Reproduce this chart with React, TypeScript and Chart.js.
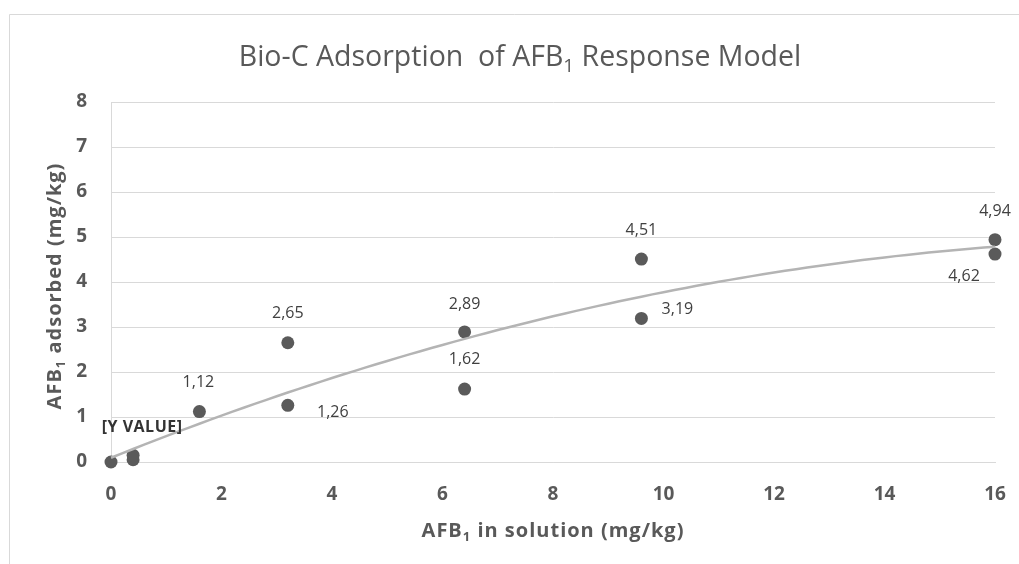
import React, { useEffect, useRef } from "react";
import { Chart, registerables } from "chart.js";

Chart.register(...registerables);

// ---- data ----
const xValues = [0, 0.4, 0.4, 1.6, 3.2, 3.2, 6.4, 6.4, 9.6, 9.6, 16, 16];
const yValues = [0, 0.05, 0.15, 1.12, 2.65, 1.26, 2.89, 1.62, 4.51, 3.19, 4.94, 4.62];
const pointLabels = ["", "", "[Y VALUE]", "1,12", "2,65", "1,26", "2,89", "1,62", "4,51", "3,19", "4,94", "4,62"];
// label placement relative to the point (pixels)
const labelOffsets: [number, number][] = [
  [0, 0], [0, 0], [9, -28], [-1, -29], [0, -29], [45, 7], [0, -28], [0, -30], [0, -29], [36, -9], [0, -28], [-31, 22],
];
const xTicks = [0, 2, 4, 6, 8, 10, 12, 14, 16];
const yTicks = [0, 1, 2, 3, 4, 5, 6, 7, 8];
const titleParts = [{ t: "Bio-C Adsorption  of AFB" }, { t: "1", sub: true }, { t: " Response Model" }];
const xTitleParts = [{ t: "AFB" }, { t: "1", sub: true }, { t: " in solution (mg/kg)" }];
const yTitleParts = [{ t: "AFB" }, { t: "1", sub: true }, { t: " adsorbed (mg/kg)" }];

// polynomial (order 2) least-squares trendline, as a spreadsheet trendline does
function quadFit(xs: number[], ys: number[]) {
  let s0 = 0, s1 = 0, s2 = 0, s3 = 0, s4 = 0, t0 = 0, t1 = 0, t2 = 0;
  for (let i = 0; i < xs.length; i++) {
    const x = xs[i], y = ys[i];
    s0 += 1; s1 += x; s2 += x * x; s3 += x * x * x; s4 += x * x * x * x;
    t0 += y; t1 += x * y; t2 += x * x * y;
  }
  const M = [
    [s0, s1, s2, t0],
    [s1, s2, s3, t1],
    [s2, s3, s4, t2],
  ];
  for (let i = 0; i < 3; i++) {
    for (let j = i + 1; j < 3; j++) {
      const f = M[j][i] / M[i][i];
      for (let k = i; k < 4; k++) M[j][k] -= f * M[i][k];
    }
  }
  const c = M[2][3] / M[2][2];
  const b = (M[1][3] - M[1][2] * c) / M[1][1];
  const a = (M[0][3] - M[0][1] * b - M[0][2] * c) / M[0][0];
  return (x: number) => a + b * x + c * x * x;
}

const FONT = "'Open Sans', 'DejaVu Sans', sans-serif";

type Part = { t: string; sub?: boolean };

function drawParts(
  ctx: CanvasRenderingContext2D,
  parts: Part[],
  size: number,
  weight: string,
  color: string,
  spacing = 0
) {
  // draws centered at (0,0), baseline middle
  const subSize = Math.round(size * 0.65);
  (ctx as any).letterSpacing = `${spacing}px`;
  let total = 0;
  const widths = parts.map((p) => {
    ctx.font = `${weight} ${p.sub ? subSize : size}px ${FONT}`;
    const w = ctx.measureText(p.t).width;
    total += w;
    return w;
  });
  let x = -total / 2;
  ctx.fillStyle = color;
  ctx.textBaseline = "middle";
  ctx.textAlign = "left";
  parts.forEach((p, i) => {
    ctx.font = `${weight} ${p.sub ? subSize : size}px ${FONT}`;
    ctx.fillText(p.t, x, p.sub ? size * 0.3 : 0);
    x += widths[i];
  });
  (ctx as any).letterSpacing = "0px";
}

const decorPlugin = {
  id: "decor",
  beforeDraw(chart: any) {
    const ctx = chart.ctx as CanvasRenderingContext2D;
    ctx.save();
    ctx.fillStyle = "#ffffff";
    ctx.fillRect(0, 0, chart.width, chart.height);
    ctx.strokeStyle = "#d9d9d9";
    ctx.lineWidth = 1;
    ctx.beginPath();
    ctx.moveTo(9.5, chart.height);
    ctx.lineTo(9.5, 14.5);
    ctx.lineTo(chart.width, 14.5);
    ctx.stroke();
    ctx.restore();
  },
  afterDraw(chart: any) {
    const ctx = chart.ctx as CanvasRenderingContext2D;
    // title
    ctx.save();
    ctx.translate(520, 58);
    drawParts(ctx, titleParts, 28.5, "normal", "#595959");
    ctx.restore();
    // x title
    ctx.save();
    ctx.translate(553, 531);
    drawParts(ctx, xTitleParts, 20, "bold", "#595959", 1);
    ctx.restore();
    // y title
    ctx.save();
    ctx.translate(55, 286);
    ctx.rotate(-Math.PI / 2);
    drawParts(ctx, yTitleParts, 20, "bold", "#595959", 1);
    ctx.restore();
    // data labels
    const meta = chart.getDatasetMeta(1);
    ctx.save();
    ctx.textAlign = "center";
    ctx.textBaseline = "middle";
    meta.data.forEach((el: any, i: number) => {
      const txt = pointLabels[i];
      if (!txt) return;
      const [dx, dy] = labelOffsets[i];
      if (txt.startsWith("[")) {
        ctx.font = `bold 16px ${FONT}`;
        (ctx as any).letterSpacing = "0.5px";
        ctx.fillStyle = "#333333";
      } else {
        ctx.font = `normal 16px ${FONT}`;
        (ctx as any).letterSpacing = "0px";
        ctx.fillStyle = "#404040";
      }
      ctx.fillText(txt, el.x + dx, el.y + dy);
    });
    (ctx as any).letterSpacing = "0px";
    ctx.restore();
  },
};

export default function App() {
  const ref = useRef<HTMLCanvasElement | null>(null);
  useEffect(() => {
    if (!ref.current) return;
    const fit = quadFit(xValues, yValues);
    const trend: { x: number; y: number }[] = [];
    for (let i = 0; i <= 80; i++) {
      const x = (16 * i) / 80;
      trend.push({ x, y: fit(x) });
    }
    const chart = new Chart(ref.current, {
      type: "scatter",
      data: {
        datasets: [
          {
            type: "line",
            label: "Trend",
            data: trend,
            borderColor: "#b4b4b4",
            borderWidth: 2.5,
            pointRadius: 0,
            fill: false,
            tension: 0,
            clip: false,
            order: 0,
          } as any,
          {
            label: "Data",
            data: xValues.map((x, i) => ({ x, y: yValues[i] })),
            backgroundColor: "#5a5a5a",
            borderColor: "#5a5a5a",
            pointRadius: 6.5,
            pointBorderWidth: 0,
            clip: false,
            order: 1,
          } as any,
        ],
      },
      options: {
        animation: false,
        responsive: false,
        maintainAspectRatio: false,
        layout: { padding: { top: 102, right: 24, left: 0, bottom: 0 } },
        plugins: { legend: { display: false }, tooltip: { enabled: false }, title: { display: false } },
        scales: {
          x: {
            type: "linear",
            min: 0,
            max: 16,
            afterBuildTicks: (s: any) => {
              s.ticks = xTicks.map((v) => ({ value: v }));
            },
            afterFit: (s: any) => {
              s.height = 102;
              s.paddingLeft = 0;
              s.paddingRight = 0;
            },
            grid: { display: false, drawTicks: false },
            border: { display: true, color: "#d9d9d9", width: 1 },
            ticks: {
              padding: 21,
              color: "#595959",
              font: { family: FONT, size: 19, weight: "bold" },
            },
          },
          y: {
            type: "linear",
            min: 0,
            max: 8,
            afterBuildTicks: (s: any) => {
              s.ticks = yTicks.map((v) => ({ value: v }));
            },
            afterFit: (s: any) => {
              s.width = 111;
              s.paddingTop = 0;
              s.paddingBottom = 0;
            },
            grid: { color: "#d9d9d9", drawTicks: false, lineWidth: 1 },
            border: { display: true, color: "#d9d9d9", width: 1 },
            ticks: {
              padding: 24,
              color: "#595959",
              font: { family: FONT, size: 19, weight: "bold" },
            },
          },
        },
      },
      plugins: [decorPlugin],
    });
    return () => chart.destroy();
  }, []);
  return (
    <div style={{ position: "fixed", left: 0, top: 0, width: 1019, height: 564, background: "#fff" }}>
      <canvas ref={ref} width={1019} height={564} style={{ display: "block", width: 1019, height: 564 }} />
    </div>
  );
}
